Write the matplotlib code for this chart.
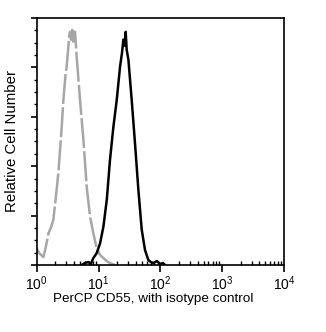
import matplotlib
matplotlib.use("Agg")
import matplotlib.pyplot as plt
from matplotlib.ticker import LogLocator, MultipleLocator, NullFormatter, LogFormatterMathtext

plt.rcParams['font.family'] = ['Liberation Sans', 'DejaVu Sans']
plt.rcParams['mathtext.fontset'] = 'custom'
plt.rcParams['mathtext.rm'] = 'Liberation Sans'
plt.rcParams['mathtext.it'] = 'Liberation Sans'

# Isotype control (gray dashed)
iso_x = [1.0, 1.1, 1.28, 1.4, 1.55, 1.7, 1.86, 2.05, 2.24, 2.54, 2.70, 2.9, 3.05, 3.25, 3.35, 3.46,
         3.6, 3.75, 3.9, 4.05, 4.17, 4.43, 5.02, 5.69, 6.44, 7.29, 8.25, 9.33, 10.6, 12.0, 13.5, 15.3, 18.5]
iso_y = [17, 12, 8, 18, 32, 38, 46, 70, 93, 140, 167, 190, 201, 221, 232, 236,
         228, 238, 226, 236, 236, 211, 167, 127, 79, 49, 32, 17, 10, 7, 4, 2, 0]

# CD55 stained (black solid)
cd55_x = [5.35, 6.0, 6.86, 7.5, 8.24, 9.33, 10.6, 12.0, 13.6, 15.3, 17.4, 19.7, 22.3, 24.0, 25.2, 26.3,
          27.5, 28.5, 30.4, 34.4, 38.9, 44.1, 49.9, 56.5, 64.0, 70.0, 77.1, 88.0, 98.9, 110.0, 119.0]
cd55_y = [0, 2, 3, 1, 7, 12, 22, 39, 66, 106, 140, 167, 201, 215, 228, 222,
          236, 218, 208, 167, 123, 76, 36, 15, 5, 3, 2, 4, 1, 2, 0]

fig = plt.figure(figsize=(3.26, 3.32), dpi=100)
ax = fig.add_axes([0.1126, 0.2018, 0.7586, 0.744])

ax.plot(iso_x, iso_y, color='#a6a6a6', lw=1.8, dashes=(12, 1.3))
ax.plot(cd55_x, cd55_y, color='black', lw=1.8)

ax.set_xscale('log')
ax.set_xlim(1, 1e4)
ax.set_ylim(0, 250)

ax.xaxis.set_major_locator(LogLocator(base=10, numticks=10))
ax.xaxis.set_minor_locator(LogLocator(base=10, subs=range(2, 10), numticks=20))
ax.xaxis.set_major_formatter(LogFormatterMathtext())
ax.xaxis.set_minor_formatter(NullFormatter())
ax.yaxis.set_major_locator(MultipleLocator(50))
ax.yaxis.set_minor_locator(MultipleLocator(12.5))
ax.yaxis.set_major_formatter(NullFormatter())

ax.tick_params(axis='x', which='major', direction='out', length=5, width=1.2, pad=2, labelsize=10)
ax.tick_params(axis='x', which='minor', direction='in', length=3, width=1.0)
ax.tick_params(axis='y', which='major', direction='out', length=4, width=1.2)
ax.tick_params(axis='y', which='minor', direction='out', length=2, width=1.0)

for s in ax.spines.values():
    s.set_linewidth(1.2)

ax.set_xlabel('PerCP CD55, with isotype control', fontsize=9.7, labelpad=4)
ax.xaxis.set_label_coords(0.473, -0.115)
ax.set_ylabel('Relative Cell Number', fontsize=10.8, labelpad=5)

fig.savefig('out.png', dpi=100)
